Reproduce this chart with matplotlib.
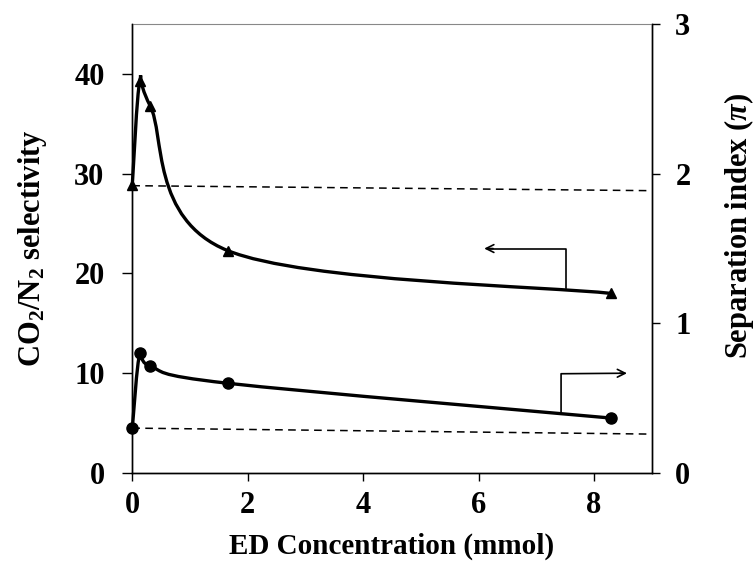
import numpy as np
import matplotlib
matplotlib.use("Agg")
import matplotlib.pyplot as plt
from matplotlib.path import Path
from matplotlib.patches import PathPatch

# ---------------------------
# DATA
# ---------------------------
ed_conc = [0.0, 0.13, 0.31, 1.65, 8.3]
selectivity = [28.9, 39.3, 36.8, 22.3, 18.0]          # left axis, triangles
sep_index = [0.30, 0.80, 0.713, 0.60, 0.367]          # right axis, circles

ref_x = [0.0, 9.0]
ref_selectivity = [28.8, 28.3]                        # dashed reference, left axis
ref_sep_index = [0.30, 0.26]                          # dashed reference, right axis

# ---------------------------
# STYLE
# ---------------------------
plt.rcParams["font.family"] = ["Liberation Serif", "DejaVu Serif"]
plt.rcParams["font.weight"] = "bold"
plt.rcParams["mathtext.fontset"] = "custom"
plt.rcParams["mathtext.rm"] = "Liberation Serif:bold"
plt.rcParams["mathtext.bf"] = "Liberation Serif:bold"
plt.rcParams["mathtext.it"] = "Liberation Serif:italic:bold"


def smooth_path(ax, xs, ys):
    # Excel-like smoothed line: Catmull-Rom in display space -> cubic Bezier
    pts = ax.transData.transform(np.column_stack([xs, ys]))
    n = len(pts)
    verts = [pts[0]]
    codes = [Path.MOVETO]
    for i in range(n - 1):
        p0 = pts[i - 1] if i > 0 else pts[i]
        p1, p2 = pts[i], pts[i + 1]
        p3 = pts[i + 2] if i + 2 < n else pts[i + 1]
        c1 = p1 + (p2 - p0) / 6.0
        c2 = p2 - (p3 - p1) / 6.0
        verts += [c1, c2, p2]
        codes += [Path.CURVE4] * 3
    verts = ax.transData.inverted().transform(np.array(verts))
    return Path(verts, codes)


fig = plt.figure(figsize=(7.56, 5.73), dpi=100)
ax = fig.add_axes([0.175, 0.1745, 0.687, 0.7835])
ax2 = ax.twinx()

ax.set_xlim(0, 9)
ax.set_ylim(0, 45)
ax2.set_ylim(0, 3)

# smooth curves
ax.add_patch(PathPatch(smooth_path(ax, ed_conc, selectivity), fill=False,
                       lw=2.4, color="black", clip_on=False))
ax2.add_patch(PathPatch(smooth_path(ax2, ed_conc, sep_index), fill=False,
                        lw=2.4, color="black", clip_on=False))

ax.plot(ed_conc, selectivity, ls="none", marker="^", ms=7, color="black", clip_on=False)
ax2.plot(ed_conc, sep_index, ls="none", marker="o", ms=8, color="black", clip_on=False)

# dashed reference lines
ax.plot(ref_x, ref_selectivity, ls=(0, (5, 3.5)), lw=1.1, color="black")
ax2.plot(ref_x, ref_sep_index, ls=(0, (5, 3.5)), lw=1.1, color="black")

# bracket arrows pointing to each axis
ax.plot([7.52, 7.52, 6.2], [18.5, 22.5, 22.5], color="black", lw=1.2)
ax.annotate("", xy=(6.05, 22.5), xytext=(6.3, 22.5),
            arrowprops=dict(arrowstyle="->", color="black", lw=1.2, mutation_scale=14))
ax.plot([7.43, 7.43, 8.5], [6.0, 9.95, 10.0], color="black", lw=1.2)
ax.annotate("", xy=(8.62, 10.0), xytext=(8.4, 10.0),
            arrowprops=dict(arrowstyle="->", color="black", lw=1.2, mutation_scale=14))

# axes, ticks, labels
ax.set_xticks([0, 2, 4, 6, 8])
ax.set_yticks([0, 10, 20, 30, 40])
ax2.set_yticks([0, 1, 2, 3])
for a in (ax, ax2):
    a.tick_params(direction="out", length=7, width=1, labelsize=22)
    for s in a.spines.values():
        s.set_linewidth(1.0)
ax.tick_params(axis="x", pad=7, length=6)
ax.tick_params(axis="y", pad=13)
ax2.tick_params(axis="y", pad=11, length=6)
ax.spines["top"].set_color("#888888")
ax.spines["top"].set_linewidth(0.8)
ax2.spines["top"].set_visible(False)

ax.set_xlabel("ED Concentration (mmol)", fontsize=21, fontweight="bold", labelpad=9)
ax.set_ylabel("CO$_2$/N$_2$ selectivity", fontsize=22, fontweight="bold", labelpad=18)
ax2.set_ylabel(r"Separation index ($\pi$)", fontsize=22, fontweight="bold")
ax2.yaxis.set_label_coords(1.135, 0.55)

fig.savefig("out.png", dpi=100)
